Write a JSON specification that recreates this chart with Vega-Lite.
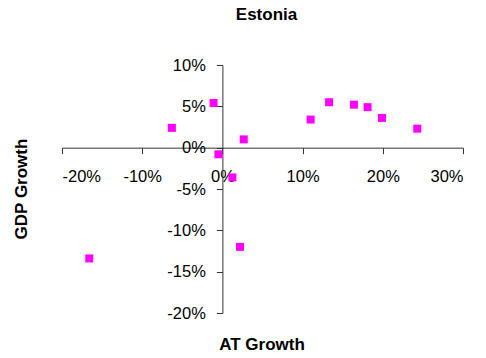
{
  "$schema": "https://vega.github.io/schema/vega-lite/v6.json",
  "autosize": {"type": "none"},
  "width": 401,
  "height": 248,
  "padding": {"left": 62, "top": 65, "right": 23, "bottom": 45},
  "background": "white",
  "title": {"text": "Estonia", "fontSize": 17, "font": "Liberation Sans", "fontWeight": "bold", "color": "black", "anchor": "middle", "frame": "group", "baseline": "middle", "offset": 25, "dx": 4},
  "config": {"view": {"stroke": null}, "font": "Liberation Sans"},
  "data": {"values": [
    {"at": -0.063, "gdp": 0.024},
    {"at": -0.011, "gdp": 0.054},
    {"at": -0.005, "gdp": -0.008},
    {"at": 0.0125, "gdp": -0.036},
    {"at": 0.0266, "gdp": 0.010},
    {"at": 0.110, "gdp": 0.034},
    {"at": 0.133, "gdp": 0.055},
    {"at": 0.164, "gdp": 0.052},
    {"at": 0.181, "gdp": 0.049},
    {"at": 0.199, "gdp": 0.036},
    {"at": 0.243, "gdp": 0.023},
    {"at": -0.166, "gdp": -0.134},
    {"at": 0.022, "gdp": -0.120}
  ]},
  "mark": {"type": "square", "size": 64, "color": "#FF00FF", "opacity": 1},
  "encoding": {
    "x": {"field": "at", "type": "quantitative",
      "scale": {"domain": [-0.2, 0.3], "nice": false, "zero": false},
      "axis": {"values": [-0.2, -0.1, 0, 0.1, 0.2, 0.3], "format": ".0%", "labelExpr": "replace(datum.label, '\u2212', '-')", "grid": false, "offset": -165.33,
        "domainColor": "#333333", "tickColor": "#333333", "tickSize": 6, "labelPadding": 15,
        "labelFontSize": 16.5, "labelColor": "black", "labelFont": "Liberation Sans",
        "title": "AT Growth", "titleFontSize": 17, "titleFont": "Liberation Sans", "titleFontWeight": "bold", "titleColor": "black",
        "titleX": 199.5, "titleY": 197.3, "titleBaseline": "middle", "titleAlign": "center"}},
    "y": {"field": "gdp", "type": "quantitative",
      "scale": {"domain": [-0.2, 0.1], "nice": false, "zero": false},
      "axis": {"values": [-0.2, -0.15, -0.1, -0.05, 0, 0.05, 0.1], "format": ".0%", "labelExpr": "replace(datum.label, '\u2212', '-')", "grid": false, "offset": -160.4,
        "domainColor": "#333333", "tickColor": "#333333", "tickSize": 6, "labelPadding": 11,
        "labelFontSize": 16.5, "labelColor": "black", "labelFont": "Liberation Sans",
        "title": "GDP Growth", "titleFontSize": 17, "titleFont": "Liberation Sans", "titleFontWeight": "bold", "titleColor": "black",
        "titleX": -200.7, "titleY": 123.5, "titleBaseline": "middle", "titleAlign": "center", "titleAngle": -90}}
  }
}
